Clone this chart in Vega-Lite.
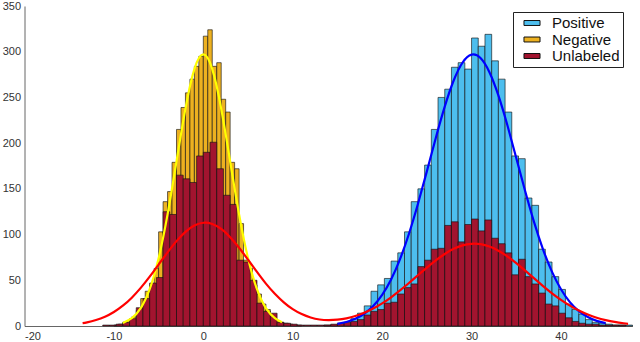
{
  "$schema": "https://vega.github.io/schema/vega-lite/v6.json",
  "width": 608,
  "height": 320,
  "autosize": {"type": "none"},
  "padding": {"left": 24.5, "top": 6, "right": 7.5, "bottom": 16},
  "background": "white",
  "config": {
    "view": {"stroke": null},
    "font": "Liberation Sans",
    "axis": {"grid": false, "title": null, "labelFont": "Liberation Sans", "labelFontSize": 11, "labelColor": "#333333", "domainColor": "#666666", "tickSize": 0, "labelPadding": 5}
  },
  "datasets": {
    "hist": [
      {"g":"Positive","a":13.5,"b":14.25,"n":1},
      {"g":"Positive","a":14.25,"b":15,"n":1},
      {"g":"Positive","a":15,"b":15.75,"n":2},
      {"g":"Positive","a":15.75,"b":16.5,"n":3},
      {"g":"Positive","a":16.5,"b":17.25,"n":8},
      {"g":"Positive","a":17.25,"b":18,"n":14},
      {"g":"Positive","a":18,"b":18.75,"n":22},
      {"g":"Positive","a":18.75,"b":19.5,"n":38},
      {"g":"Positive","a":19.5,"b":20.25,"n":45},
      {"g":"Positive","a":20.25,"b":21,"n":52},
      {"g":"Positive","a":21,"b":21.75,"n":71},
      {"g":"Positive","a":21.75,"b":22.5,"n":80},
      {"g":"Positive","a":22.5,"b":23.25,"n":103},
      {"g":"Positive","a":23.25,"b":24,"n":136},
      {"g":"Positive","a":24,"b":24.75,"n":150},
      {"g":"Positive","a":24.75,"b":25.5,"n":176},
      {"g":"Positive","a":25.5,"b":26.25,"n":215},
      {"g":"Positive","a":26.25,"b":27,"n":250},
      {"g":"Positive","a":27,"b":27.75,"n":259},
      {"g":"Positive","a":27.75,"b":28.5,"n":283},
      {"g":"Positive","a":28.5,"b":29.25,"n":288},
      {"g":"Positive","a":29.25,"b":30,"n":281},
      {"g":"Positive","a":30,"b":30.75,"n":315},
      {"g":"Positive","a":30.75,"b":31.5,"n":306},
      {"g":"Positive","a":31.5,"b":32.25,"n":319},
      {"g":"Positive","a":32.25,"b":33,"n":290},
      {"g":"Positive","a":33,"b":33.75,"n":270},
      {"g":"Positive","a":33.75,"b":34.5,"n":234},
      {"g":"Positive","a":34.5,"b":35.25,"n":186},
      {"g":"Positive","a":35.25,"b":36,"n":183},
      {"g":"Positive","a":36,"b":36.75,"n":140},
      {"g":"Positive","a":36.75,"b":37.5,"n":132},
      {"g":"Positive","a":37.5,"b":38.25,"n":84},
      {"g":"Positive","a":38.25,"b":39,"n":70},
      {"g":"Positive","a":39,"b":39.75,"n":54},
      {"g":"Positive","a":39.75,"b":40.5,"n":40},
      {"g":"Positive","a":40.5,"b":41.25,"n":24},
      {"g":"Positive","a":41.25,"b":42,"n":18},
      {"g":"Positive","a":42,"b":42.75,"n":13},
      {"g":"Positive","a":42.75,"b":43.5,"n":7},
      {"g":"Positive","a":43.5,"b":44.25,"n":4},
      {"g":"Positive","a":44.25,"b":45,"n":3},
      {"g":"Positive","a":45,"b":45.75,"n":2},
      {"g":"Positive","a":45.75,"b":46.5,"n":1},
      {"g":"Positive","a":46.5,"b":47.25,"n":1},
      {"g":"Positive","a":47.25,"b":48,"n":1},
      {"g":"Negative","a":-10,"b":-9.5,"n":1},
      {"g":"Negative","a":-9.5,"b":-9,"n":2},
      {"g":"Negative","a":-9,"b":-8.5,"n":4},
      {"g":"Negative","a":-8.5,"b":-8,"n":6},
      {"g":"Negative","a":-8,"b":-7.5,"n":10},
      {"g":"Negative","a":-7.5,"b":-7,"n":17},
      {"g":"Negative","a":-7,"b":-6.5,"n":30},
      {"g":"Negative","a":-6.5,"b":-6,"n":38},
      {"g":"Negative","a":-6,"b":-5.5,"n":45},
      {"g":"Negative","a":-5.5,"b":-5,"n":63},
      {"g":"Negative","a":-5,"b":-4.5,"n":103},
      {"g":"Negative","a":-4.5,"b":-4,"n":136},
      {"g":"Negative","a":-4,"b":-3.5,"n":147},
      {"g":"Negative","a":-3.5,"b":-3,"n":179},
      {"g":"Negative","a":-3,"b":-2.5,"n":215},
      {"g":"Negative","a":-2.5,"b":-2,"n":239},
      {"g":"Negative","a":-2,"b":-1.5,"n":255},
      {"g":"Negative","a":-1.5,"b":-1,"n":270},
      {"g":"Negative","a":-1,"b":-0.5,"n":284},
      {"g":"Negative","a":-0.5,"b":0,"n":295},
      {"g":"Negative","a":0,"b":0.5,"n":317},
      {"g":"Negative","a":0.5,"b":1,"n":324},
      {"g":"Negative","a":1,"b":1.5,"n":284},
      {"g":"Negative","a":1.5,"b":2,"n":288},
      {"g":"Negative","a":2,"b":2.5,"n":248},
      {"g":"Negative","a":2.5,"b":3,"n":234},
      {"g":"Negative","a":3,"b":3.5,"n":179},
      {"g":"Negative","a":3.5,"b":4,"n":172},
      {"g":"Negative","a":4,"b":4.5,"n":112},
      {"g":"Negative","a":4.5,"b":5,"n":72},
      {"g":"Negative","a":5,"b":5.5,"n":63},
      {"g":"Negative","a":5.5,"b":6,"n":45},
      {"g":"Negative","a":6,"b":6.5,"n":35},
      {"g":"Negative","a":6.5,"b":7,"n":24},
      {"g":"Negative","a":7,"b":7.5,"n":18},
      {"g":"Negative","a":7.5,"b":8,"n":10},
      {"g":"Negative","a":8,"b":8.5,"n":6},
      {"g":"Negative","a":8.5,"b":9,"n":4},
      {"g":"Negative","a":9,"b":9.5,"n":3},
      {"g":"Negative","a":9.5,"b":10,"n":2},
      {"g":"Negative","a":10,"b":10.5,"n":1},
      {"g":"Negative","a":10.5,"b":11,"n":1},
      {"g":"Unlabeled","a":-11.25,"b":-10.5,"n":1},
      {"g":"Unlabeled","a":-10.5,"b":-9.75,"n":1},
      {"g":"Unlabeled","a":-9.75,"b":-9,"n":2},
      {"g":"Unlabeled","a":-9,"b":-8.25,"n":4},
      {"g":"Unlabeled","a":-8.25,"b":-7.5,"n":8},
      {"g":"Unlabeled","a":-7.5,"b":-6.75,"n":20},
      {"g":"Unlabeled","a":-6.75,"b":-6,"n":30},
      {"g":"Unlabeled","a":-6,"b":-5.25,"n":47},
      {"g":"Unlabeled","a":-5.25,"b":-4.5,"n":53},
      {"g":"Unlabeled","a":-4.5,"b":-3.75,"n":125},
      {"g":"Unlabeled","a":-3.75,"b":-3,"n":122},
      {"g":"Unlabeled","a":-3,"b":-2.25,"n":165},
      {"g":"Unlabeled","a":-2.25,"b":-1.5,"n":161},
      {"g":"Unlabeled","a":-1.5,"b":-0.75,"n":157},
      {"g":"Unlabeled","a":-0.75,"b":0,"n":186},
      {"g":"Unlabeled","a":0,"b":0.75,"n":190},
      {"g":"Unlabeled","a":0.75,"b":1.5,"n":201},
      {"g":"Unlabeled","a":1.5,"b":2.25,"n":172},
      {"g":"Unlabeled","a":2.25,"b":3,"n":143},
      {"g":"Unlabeled","a":3,"b":3.75,"n":133},
      {"g":"Unlabeled","a":3.75,"b":4.5,"n":72},
      {"g":"Unlabeled","a":4.5,"b":5.25,"n":70},
      {"g":"Unlabeled","a":5.25,"b":6,"n":50},
      {"g":"Unlabeled","a":6,"b":6.75,"n":25},
      {"g":"Unlabeled","a":6.75,"b":7.5,"n":16},
      {"g":"Unlabeled","a":7.5,"b":8.25,"n":14},
      {"g":"Unlabeled","a":8.25,"b":9,"n":4},
      {"g":"Unlabeled","a":9,"b":9.75,"n":3},
      {"g":"Unlabeled","a":9.75,"b":10.5,"n":2},
      {"g":"Unlabeled","a":10.5,"b":11.25,"n":1},
      {"g":"Unlabeled","a":11.25,"b":12,"n":1},
      {"g":"Unlabeled","a":12,"b":12.75,"n":1},
      {"g":"Unlabeled","a":12.75,"b":13.5,"n":1},
      {"g":"Unlabeled","a":13.5,"b":14.25,"n":1},
      {"g":"Unlabeled","a":14.25,"b":15,"n":2},
      {"g":"Unlabeled","a":15,"b":15.75,"n":3},
      {"g":"Unlabeled","a":15.75,"b":16.5,"n":4},
      {"g":"Unlabeled","a":16.5,"b":17.25,"n":5},
      {"g":"Unlabeled","a":17.25,"b":18,"n":7},
      {"g":"Unlabeled","a":18,"b":18.75,"n":12},
      {"g":"Unlabeled","a":18.75,"b":19.5,"n":16},
      {"g":"Unlabeled","a":19.5,"b":20.25,"n":18},
      {"g":"Unlabeled","a":20.25,"b":21,"n":25},
      {"g":"Unlabeled","a":21,"b":21.75,"n":26},
      {"g":"Unlabeled","a":21.75,"b":22.5,"n":35},
      {"g":"Unlabeled","a":22.5,"b":23.25,"n":42},
      {"g":"Unlabeled","a":23.25,"b":24,"n":46},
      {"g":"Unlabeled","a":24,"b":24.75,"n":65},
      {"g":"Unlabeled","a":24.75,"b":25.5,"n":72},
      {"g":"Unlabeled","a":25.5,"b":26.25,"n":84},
      {"g":"Unlabeled","a":26.25,"b":27,"n":85},
      {"g":"Unlabeled","a":27,"b":27.75,"n":110},
      {"g":"Unlabeled","a":27.75,"b":28.5,"n":114},
      {"g":"Unlabeled","a":28.5,"b":29.25,"n":92},
      {"g":"Unlabeled","a":29.25,"b":30,"n":111},
      {"g":"Unlabeled","a":30,"b":30.75,"n":117},
      {"g":"Unlabeled","a":30.75,"b":31.5,"n":104},
      {"g":"Unlabeled","a":31.5,"b":32.25,"n":116},
      {"g":"Unlabeled","a":32.25,"b":33,"n":96},
      {"g":"Unlabeled","a":33,"b":33.75,"n":90},
      {"g":"Unlabeled","a":33.75,"b":34.5,"n":80},
      {"g":"Unlabeled","a":34.5,"b":35.25,"n":56},
      {"g":"Unlabeled","a":35.25,"b":36,"n":73},
      {"g":"Unlabeled","a":36,"b":36.75,"n":54},
      {"g":"Unlabeled","a":36.75,"b":37.5,"n":46},
      {"g":"Unlabeled","a":37.5,"b":38.25,"n":36},
      {"g":"Unlabeled","a":38.25,"b":39,"n":24},
      {"g":"Unlabeled","a":39,"b":39.75,"n":22},
      {"g":"Unlabeled","a":39.75,"b":40.5,"n":14},
      {"g":"Unlabeled","a":40.5,"b":41.25,"n":9},
      {"g":"Unlabeled","a":41.25,"b":42,"n":5},
      {"g":"Unlabeled","a":42,"b":42.75,"n":3},
      {"g":"Unlabeled","a":42.75,"b":43.5,"n":2},
      {"g":"Unlabeled","a":43.5,"b":44.25,"n":2},
      {"g":"Unlabeled","a":44.25,"b":45,"n":1},
      {"g":"Unlabeled","a":45,"b":45.75,"n":1},
      {"g":"Unlabeled","a":45.75,"b":46.5,"n":1},
      {"g":"Unlabeled","a":46.5,"b":47.25,"n":1}
    ],
    "curves": [
      {"c":"neg","x":-9,"y":3.3},{"c":"neg","x":-8,"y":8.5},{"c":"neg","x":-7,"y":19.5},{"c":"neg","x":-6,"y":40.2},{"c":"neg","x":-5,"y":74.1},{"c":"neg","x":-4,"y":122.1},{"c":"neg","x":-3,"y":180.1},{"c":"neg","x":-2,"y":237.8},{"c":"neg","x":-1,"y":281},{"c":"neg","x":0,"y":297},{"c":"neg","x":1,"y":281},{"c":"neg","x":2,"y":237.8},{"c":"neg","x":3,"y":180.1},{"c":"neg","x":4,"y":122.1},{"c":"neg","x":5,"y":74.1},{"c":"neg","x":6,"y":40.2},{"c":"neg","x":7,"y":19.5},{"c":"neg","x":8,"y":8.5},{"c":"neg","x":8.8,"y":4},
      {"c":"pos","x":15,"y":2.4},{"c":"pos","x":16,"y":4.4},{"c":"pos","x":17,"y":7.9},{"c":"pos","x":18,"y":13.4},{"c":"pos","x":19,"y":21.8},{"c":"pos","x":20,"y":34},{"c":"pos","x":21,"y":50.9},{"c":"pos","x":22,"y":73.2},{"c":"pos","x":23,"y":100.9},{"c":"pos","x":24,"y":133.4},{"c":"pos","x":25,"y":169.1},{"c":"pos","x":26,"y":205.7},{"c":"pos","x":27,"y":239.9},{"c":"pos","x":28,"y":268.5},{"c":"pos","x":29,"y":288.2},{"c":"pos","x":30,"y":296.8},{"c":"pos","x":31,"y":293.1},{"c":"pos","x":32,"y":277.6},{"c":"pos","x":33,"y":252.2},{"c":"pos","x":34,"y":219.8},{"c":"pos","x":35,"y":183.8},{"c":"pos","x":36,"y":147.4},{"c":"pos","x":37,"y":113.3},{"c":"pos","x":38,"y":83.6},{"c":"pos","x":39,"y":59.2},{"c":"pos","x":40,"y":40.2},{"c":"pos","x":41,"y":26.1},{"c":"pos","x":42,"y":16.3},{"c":"pos","x":43,"y":9.8},{"c":"pos","x":44,"y":5.6},{"c":"pos","x":45,"y":3.1},
      {"c":"unl","x":-13.5,"y":3.1},{"c":"unl","x":-13,"y":4},{"c":"unl","x":-12,"y":6.5},{"c":"unl","x":-11,"y":10.1},{"c":"unl","x":-10,"y":15.3},{"c":"unl","x":-9,"y":22.2},{"c":"unl","x":-8,"y":31},{"c":"unl","x":-7,"y":41.7},{"c":"unl","x":-6,"y":54},{"c":"unl","x":-5,"y":67.2},{"c":"unl","x":-4,"y":80.5},{"c":"unl","x":-3,"y":92.8},{"c":"unl","x":-2,"y":103},{"c":"unl","x":-1,"y":109.9},{"c":"unl","x":0,"y":112.9},{"c":"unl","x":1,"y":111.6},{"c":"unl","x":2,"y":106.2},{"c":"unl","x":3,"y":97.2},{"c":"unl","x":4,"y":85.6},{"c":"unl","x":5,"y":72.5},{"c":"unl","x":6,"y":59.2},{"c":"unl","x":7,"y":46.4},{"c":"unl","x":8,"y":35.3},{"c":"unl","x":9,"y":25.9},{"c":"unl","x":10,"y":18.4},{"c":"unl","x":11,"y":13},{"c":"unl","x":12,"y":9.3},{"c":"unl","x":13,"y":7.1},{"c":"unl","x":14,"y":6.4},{"c":"unl","x":15,"y":6.9},{"c":"unl","x":16,"y":8.4},{"c":"unl","x":17,"y":10.9},{"c":"unl","x":18,"y":14.5},{"c":"unl","x":19,"y":19.1},{"c":"unl","x":20,"y":24.7},{"c":"unl","x":21,"y":31.4},{"c":"unl","x":22,"y":38.9},{"c":"unl","x":23,"y":47},{"c":"unl","x":24,"y":55.5},{"c":"unl","x":25,"y":63.9},{"c":"unl","x":26,"y":71.8},{"c":"unl","x":27,"y":78.8},{"c":"unl","x":28,"y":84.4},{"c":"unl","x":29,"y":88.2},{"c":"unl","x":30,"y":89.9},{"c":"unl","x":31,"y":89.5},{"c":"unl","x":32,"y":86.9},{"c":"unl","x":33,"y":82.3},{"c":"unl","x":34,"y":76.2},{"c":"unl","x":35,"y":68.8},{"c":"unl","x":36,"y":60.6},{"c":"unl","x":37,"y":52.1},{"c":"unl","x":38,"y":43.7},{"c":"unl","x":39,"y":35.8},{"c":"unl","x":40,"y":28.6},{"c":"unl","x":41,"y":22.3},{"c":"unl","x":42,"y":17},{"c":"unl","x":43,"y":12.6},{"c":"unl","x":44,"y":9.1},{"c":"unl","x":45,"y":6.5},{"c":"unl","x":46,"y":4.5},{"c":"unl","x":47,"y":3},{"c":"unl","x":47.5,"y":2.4}
    ]
  },
  "layer": [
    {
      "data": {"name": "hist"},
      "mark": {"type": "bar", "stroke": "#111111", "strokeWidth": 0.7, "strokeOpacity": 0.9},
      "encoding": {
        "x": {"field": "a", "type": "quantitative", "scale": {"domain": [-20, 48], "nice": false, "zero": false},
              "axis": {"values": [-20, -10, 0, 10, 20, 30, 40], "labelExpr": "datum.value < 0 ? '-' + abs(datum.value) : '' + datum.value", "labelPadding": 4}},
        "x2": {"field": "b"},
        "y": {"field": "n", "type": "quantitative", "stack": null, "scale": {"domain": [0, 350], "nice": false},
              "axis": {"values": [0, 50, 100, 150, 200, 250, 300, 350], "labelPadding": 4}},
        "y2": {"datum": 0},
        "color": {"field": "g", "type": "nominal",
                  "scale": {"domain": ["Positive", "Negative", "Unlabeled"], "range": ["#4DBEEE", "#EDB120", "#A2142F"]},
                  "legend": {"title": null, "orient": "none", "legendX": 488.5, "legendY": 6,
                             "symbolType": "M-1.07,-0.33H1.07V0.33H-1.07Z", "symbolSize": 225,
                             "symbolStrokeColor": "#111111", "symbolStrokeWidth": 1, "symbolOpacity": 1,
                             "labelFontSize": 15, "labelFont": "Liberation Sans", "labelColor": "#111111",
                             "labelOffset": 12, "symbolOffset": 8, "rowPadding": 0.5, "padding": 3,
                             "fillColor": "white", "strokeColor": "#222222"}}
      }
    },
    {
      "data": {"name": "curves"},
      "mark": {"type": "line", "strokeWidth": 2.2, "interpolate": "natural"},
      "encoding": {
        "x": {"field": "x", "type": "quantitative"},
        "y": {"field": "y", "type": "quantitative"},
        "stroke": {"field": "c", "type": "nominal", "scale": {"domain": ["neg", "pos", "unl"], "range": ["#FFFF00", "#0000FF", "#FF0000"]}, "legend": null}
      }
    }
  ]
}
